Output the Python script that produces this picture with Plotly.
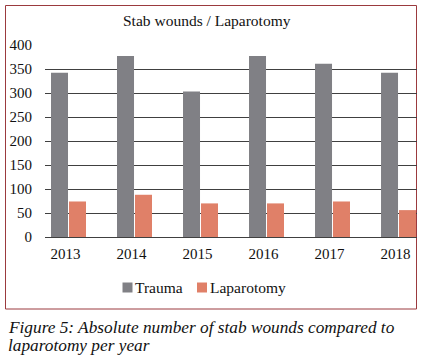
import plotly.graph_objects as go

years = ["2013", "2014", "2015", "2016", "2017", "2018"]
trauma = [342, 377, 303, 377, 361, 342]
laparotomy = [74, 88, 70, 70, 74, 56]
y_ticks = [0, 50, 100, 150, 200, 250, 300, 350, 400]
series_names = ["Trauma", "Laparotomy"]
series_colors = ["#808085", "#E08068"]

title_text = "Stab wounds / Laparotomy"
caption1 = "Figure 5: Absolute number of stab wounds compared to"
caption2 = "laparotomy per year"

SERIF = "Liberation Serif, Times New Roman, serif"

# plot area in pixels
L, R, T, B = 45, 417, 45, 237
W, H = R - L, B - T

def px_x(x):
    return (x - L) / W

def px_y(y):
    return (B - y) / H

fig = go.Figure()
for name, vals, col in zip(series_names, [trauma, laparotomy], series_colors):
    fig.add_trace(go.Bar(x=years, y=vals, name=name, marker_color=col,
                         marker_line_width=0, showlegend=False))

fig.update_layout(
    width=423, height=360,
    margin=dict(l=L, r=423 - R, t=T, b=360 - B, pad=0),
    paper_bgcolor="white", plot_bgcolor="white",
    barmode="group", bargap=0.455, bargroupgap=0.054,
    font=dict(family=SERIF, size=15, color="#111111"),
    showlegend=False,
    xaxis=dict(range=[-0.356, 5.28], showgrid=False, showline=False, zeroline=False,
               ticks="", tickfont=dict(size=15), ticklabelstandoff=6, ticklabelshift=-3),
    yaxis=dict(range=[0, 400], tickvals=y_ticks, showgrid=True, gridcolor="#404040",
               gridwidth=1, zeroline=True, zerolinecolor="#404040", zerolinewidth=1,
               showline=False, ticks="", tickfont=dict(size=15), ticklabelstandoff=12),
)

# frame
fig.add_shape(type="rect", xref="paper", yref="paper",
              x0=px_x(5.5), x1=px_x(416.5), y0=px_y(309), y1=px_y(5.5),
              line=dict(color="#9B3A3E", width=1), fillcolor="rgba(0,0,0,0)", layer="below")

# legend (swatch + label)
legend_sw_x = [122.5, 197]
legend_txt_x = [134, 209]
for name, col, sx, tx in zip(series_names, series_colors, legend_sw_x, legend_txt_x):
    fig.add_shape(type="rect", xref="paper", yref="paper",
                  x0=px_x(sx), x1=px_x(sx + 10), y0=px_y(292.5), y1=px_y(282.5),
                  line=dict(width=0), fillcolor=col)
    fig.add_annotation(text=name, xref="paper", yref="paper", x=px_x(tx), y=px_y(287.5),
                       xanchor="left", yanchor="middle", showarrow=False,
                       xshift=-1, font=dict(family=SERIF, size=15.5, color="#111111"))

fig.add_annotation(text=title_text, xref="paper", yref="paper", x=px_x(207), y=px_y(20),
                   xanchor="center", yanchor="middle", showarrow=False,
                   font=dict(family=SERIF, size=15.5, color="#111111"))

fig.add_annotation(text="<i>" + caption1 + "</i>", xref="paper", yref="paper",
                   x=px_x(6), y=px_y(327), xanchor="left", yanchor="middle",
                   showarrow=False, font=dict(family=SERIF, size=17.3, color="#111111"))
fig.add_annotation(text="<i>" + caption2 + "</i>", xref="paper", yref="paper",
                   x=px_x(6), y=px_y(345), xanchor="left", yanchor="middle",
                   showarrow=False, font=dict(family=SERIF, size=17.3, color="#111111"))

fig.write_html("out.html",
               config={"displayModeBar": False},
               post_script="document.body.style.margin='0';document.body.style.padding='0';"
                           "document.documentElement.style.overflow='hidden';")
